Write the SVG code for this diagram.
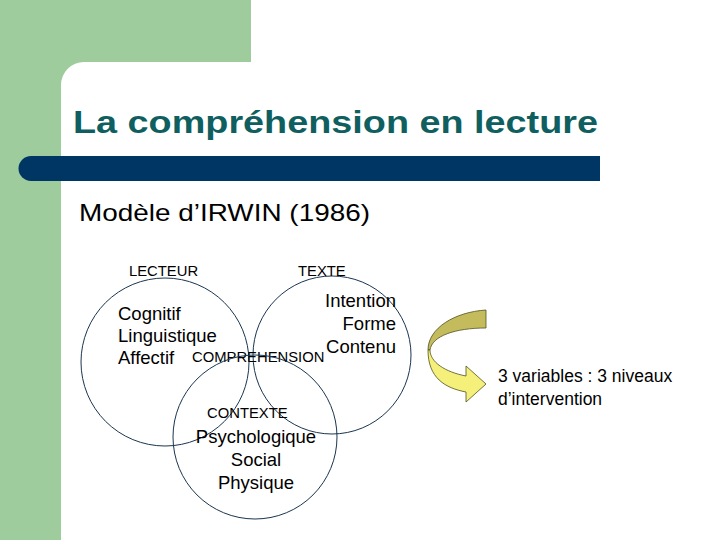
<svg xmlns="http://www.w3.org/2000/svg" width="720" height="540" viewBox="0 0 720 540">
<style>
text{font-family:"Liberation Sans",Arial,sans-serif;fill:#000}
.c{fill:none;stroke:#1a3550;stroke-width:1}
.s{font-size:14.8px}
.m{font-size:18.5px}
</style>
<rect width="720" height="540" fill="#fff"/>
<g id="bg">
<rect x="0" y="0" width="251" height="62" fill="#9ecc9c"/>
<rect x="0" y="0" width="61" height="540" fill="#9ecc9c"/>
<path d="M61 62 H84 A23 23 0 0 0 61 85 Z" fill="#9ecc9c"/>
<path d="M31 156 H600 V181 H31 A12.5 12.5 0 0 1 31 156 Z" fill="#003663"/>
</g>
<text x="73" y="133" font-size="32" font-weight="bold" textLength="525" lengthAdjust="spacingAndGlyphs" style="fill:#0f5f60">La compréhension en lecture</text>
<text x="79" y="221" font-size="24" textLength="291" lengthAdjust="spacingAndGlyphs">Modèle d’IRWIN (1986)</text>
<g id="lecteur">
<circle class="c" cx="165" cy="362" r="84"/>
<text class="s" x="129" y="276">LECTEUR</text>
<text class="m" x="118" y="320">Cognitif</text>
<text class="m" x="118" y="342">Linguistique</text>
<text class="m" x="118" y="364">Affectif</text>
</g>
<g id="texte">
<circle class="c" cx="332" cy="355" r="79"/>
<text class="s" x="298" y="276">TEXTE</text>
<text class="m" x="396" y="307" text-anchor="end">Intention</text>
<text class="m" x="396" y="330" text-anchor="end">Forme</text>
<text class="m" x="396" y="353" text-anchor="end">Contenu</text>
</g>
<text class="s" x="192" y="362">COMPREHENSION</text>
<g id="contexte">
<circle class="c" cx="255" cy="437" r="82"/>
<text class="s" x="207" y="418">CONTEXTE</text>
<text class="m" x="256" y="443" text-anchor="middle">Psychologique</text>
<text class="m" x="256" y="466" text-anchor="middle">Social</text>
<text class="m" x="256" y="489" text-anchor="middle">Physique</text>
</g>
<g id="arrow" stroke="#505020" stroke-width="0.8">
<path d="M486 310 V328 C455 328 432 336 430 350 L428 350 C428 328 455 312 486 310 Z" fill="#c4bc5c"/>
<path d="M428 350 C428 378 445 388 466 392 V402 L486 384 L466 366 V376 C445 372 430 362 430 350 Z" fill="#f4f07a"/>
</g>
<text x="498" y="382" font-size="17.5">3 variables : 3 niveaux</text>
<text x="498" y="405" font-size="17.5">d’intervention</text>
</svg>
